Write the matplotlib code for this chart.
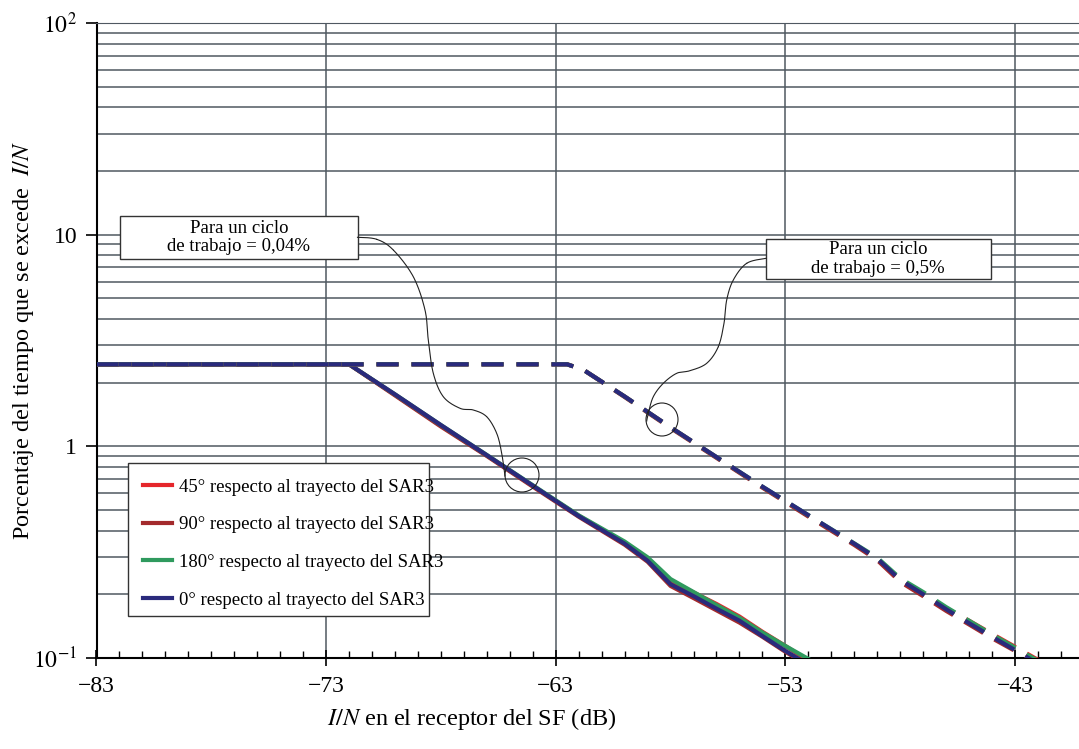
#Courbes I/N : pourcentage du temps depasse, 4 orientations SAR3, 2 cycles de travail

import numpy as np
import matplotlib
matplotlib.use("Agg")
import matplotlib.pyplot as plt
from matplotlib.lines import Line2D
from matplotlib.patches import Rectangle, Ellipse

##############
#### Data ####
##############

labels = ["45° respecto al trayecto del SAR3",
          "90° respecto al trayecto del SAR3",
          "180° respecto al trayecto del SAR3",
          "0° respecto al trayecto del SAR3"]
colors = ["#e5262b", "#a32a2c", "#2f9a5e", "#2a2a7c"]

# ciclo de trabajo = 0,04 % (trait plein)
x_004 = [-83, -72, -70, -68, -66, -64, -62, -60, -59, -58, -57, -56, -55, -54, -53, -52.0]
y_004_45 = [2.44, 2.44, 1.75, 1.25, 0.905, 0.650, 0.470, 0.350, 0.293, 0.232, 0.204, 0.180, 0.157, 0.133, 0.114, 0.097]
y_004_90 = [2.44, 2.44, 1.74, 1.24, 0.900, 0.645, 0.465, 0.343, 0.285, 0.219, 0.192, 0.168, 0.147, 0.126, 0.107, 0.092]
y_004_180 = [2.44, 2.44, 1.76, 1.26, 0.910, 0.655, 0.472, 0.355, 0.299, 0.236, 0.205, 0.178, 0.155, 0.132, 0.114, 0.099]
y_004_0 = [2.44, 2.44, 1.76, 1.26, 0.908, 0.652, 0.468, 0.347, 0.288, 0.223, 0.196, 0.171, 0.150, 0.127, 0.108, 0.093]

# ciclo de trabajo = 0,5 % (tirets)
x_05 = [-83, -62.5, -61.8, -60, -58, -56, -54, -52, -50, -49, -48, -47, -46, -45, -44, -43, -42.0]
y_05_45 = [2.44, 2.44, 2.30, 1.72, 1.23, 0.888, 0.642, 0.470, 0.345, 0.293, 0.232, 0.200, 0.172, 0.150, 0.130, 0.113, 0.098]
y_05_90 = [2.44, 2.44, 2.30, 1.71, 1.22, 0.882, 0.638, 0.466, 0.342, 0.290, 0.229, 0.196, 0.167, 0.144, 0.124, 0.108, 0.093]
y_05_180 = [2.44, 2.44, 2.30, 1.72, 1.23, 0.890, 0.645, 0.473, 0.348, 0.298, 0.238, 0.205, 0.174, 0.150, 0.129, 0.112, 0.097]
y_05_0 = [2.44, 2.44, 2.30, 1.72, 1.23, 0.890, 0.645, 0.473, 0.347, 0.295, 0.234, 0.200, 0.170, 0.146, 0.126, 0.109, 0.094]

x_major = [-83, -73, -63, -53, -43]
y_major = [0.1, 1, 10, 100]
y_major_lab = ["$10^{-1}$", "1", "10", "$10^{2}$"]

###################
#### fonctions ####
###################

W, H = 1079, 749

def fx(px):
    return px / W

def fy(py):
    return (H - py) / H

def catmull(pts, n=20):
    # courbe lisse passant par les points (pixels)
    pts = np.array(pts, float)
    p = np.vstack([pts[0], pts, pts[-1]])
    out = []
    for i in range(1, len(p) - 2):
        p0, p1, p2, p3 = p[i - 1], p[i], p[i + 1], p[i + 2]
        t = np.linspace(0, 1, n)[:, None]
        out.append(0.5 * (2 * p1 + (-p0 + p2) * t + (2 * p0 - 5 * p1 + 4 * p2 - p3) * t ** 2
                          + (-p0 + 3 * p1 - 3 * p2 + p3) * t ** 3))
    return np.vstack(out)

##############
#### Plot ####
##############

plt.rcParams['font.family'] = ['Liberation Serif', 'DejaVu Serif']
plt.rcParams['mathtext.fontset'] = 'stix'

fig = plt.figure(figsize=(W / 100, H / 100), dpi=100)
px_per_db = (1015 - 96.5) / 40
ax_w = 43 * px_per_db
ax = fig.add_axes([fx(96.5), fy(658), ax_w / W, fy(23) - fy(658)])

ax.set_yscale('log')
ax.set_xlim(-83, -40)
ax.set_ylim(0.1, 100)

grid_c = "#4f5861"
ax.set_xticks(x_major)
ax.set_xticks(np.arange(-83, -40, 1), minor=True)
ax.set_yticks(y_major)
ax.set_yticklabels(y_major_lab)
ax.yaxis.set_minor_formatter(matplotlib.ticker.NullFormatter())
ax.grid(True, which='major', axis='x', color=grid_c, lw=1.1)
ax.grid(True, which='both', axis='y', color=grid_c, lw=1.1)
ax.tick_params(axis='x', which='major', direction='inout', length=12, width=1.2, labelsize=17, pad=7)
ax.tick_params(axis='x', which='minor', direction='in', length=5, width=1.0)
ax.tick_params(axis='y', which='major', direction='out', length=8, width=1.2, labelsize=17, pad=6)
ax.tick_params(axis='y', which='minor', length=0)
ax.spines['right'].set_visible(False)
ax.spines['top'].set_color(grid_c)
ax.spines['left'].set_linewidth(1.5)
ax.spines['bottom'].set_linewidth(1.5)

ys_004 = [y_004_45, y_004_90, y_004_180, y_004_0]
ys_05 = [y_05_45, y_05_90, y_05_180, y_05_0]
handles = []
for y, c, lab in zip(ys_004, colors, labels):
    h, = ax.plot(x_004, y, color=c, lw=3, label=lab, solid_joinstyle='round', zorder=3)
    handles.append(h)
for y, c in zip(ys_05, colors):
    ax.plot(x_05, y, color=c, lw=3, dashes=(5.3, 3.1), zorder=3)

# cadre de la legende (le texte deborde un peu, comme sur l'original)
ax.add_patch(Rectangle((fx(127.5), fy(616)), fx(428.5) - fx(127.5), fy(463) - fy(616),
                       transform=fig.transFigure, facecolor='white', edgecolor='#333333',
                       lw=1.0, zorder=4.5, clip_on=False))
leg = ax.legend(handles=handles, loc='upper left', bbox_to_anchor=(fx(127.5), fy(463)),
                bbox_transform=fig.transFigure, fontsize=13.5, frameon=False,
                borderaxespad=0, borderpad=0.82, handlelength=1.55, handletextpad=0.4,
                labelspacing=1.1)
leg.set_zorder(5)

ax.set_ylabel("Porcentaje del tiempo que se excede  $\\it{I/N}$", fontsize=17.5)
ax.yaxis.set_label_coords((24 - 96.5) / ax_w, 0.5)
ax.yaxis.label.set_va('center')
ax.set_xlabel("$\\it{I/N}$ en el receptor del SF (dB)", fontsize=17.5)
ax.xaxis.set_label_coords((472 - 96.5) / ax_w, (658 - 719) / (658 - 23))
ax.xaxis.label.set_va('center')

# boites d'annotation
boxes = [((120, 216, 357.5, 258.5), "Para un ciclo\nde trabajo = 0,04%"),
         ((766, 239, 990.5, 279), "Para un ciclo\nde trabajo = 0,5%")]
for (x0, y0, x1, y1), txt in boxes:
    fig.add_artist(Rectangle((fx(x0), fy(y1)), fx(x1) - fx(x0), fy(y0) - fy(y1),
                             transform=fig.transFigure, facecolor='white', edgecolor='#333333',
                             lw=1.0, zorder=6))
    fig.text(fx((x0 + x1) / 2), fy((y0 + y1) / 2), txt, ha='center', va='center',
             fontsize=13.5, linespacing=1.1, zorder=7)

# fleches ondulees
curve1 = [(357.5, 237.3), (376.7, 239.3), (393.3, 250), (413.3, 276.7), (425, 310), (428.3, 340),
          (433.3, 373.3), (443.3, 396.7), (460, 408.3), (473.3, 410), (486.7, 416.7),
          (496.7, 433.3), (501.7, 453.3), (505, 476)]
curve2 = [(766, 258.3), (746.7, 263.3), (733.3, 280), (726.7, 300), (724, 323.3), (718.3, 346.7),
          (706.7, 363.3), (690, 370.7), (676.7, 373.3), (663.3, 383.3), (653.3, 396.7),
          (648.3, 413.3), (646.7, 421)]
for pts in (curve1, curve2):
    c = catmull(pts)
    fig.add_artist(Line2D(fx(c[:, 0]), fy(c[:, 1]), transform=fig.transFigure,
                          color='#222222', lw=0.8, zorder=6))
for cx, cy, w, h in [(522, 475, 34, 34), (662, 419.5, 32, 33)]:
    fig.add_artist(Ellipse((fx(cx), fy(cy)), w / W, h / H, transform=fig.transFigure,
                           facecolor='none', edgecolor='#222222', lw=0.8, zorder=6))

fig.savefig("out.png", dpi=100)
